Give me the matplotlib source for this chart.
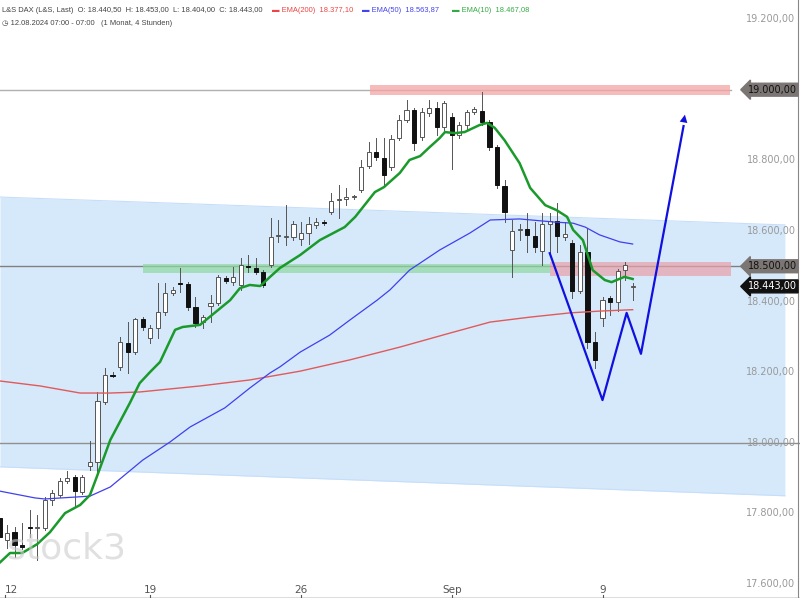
import matplotlib
matplotlib.use("Agg")
import matplotlib.pyplot as plt
from matplotlib.patches import Rectangle
import numpy as np

# ---- data ----
idx = list(range(-1, 84))
opens = [17787,17725,17747,17711,17762,17759,17759,17838,17852,17892,17903,17861,17934,17946,18116,18192,18215,18283,18257,18351,18297,
         18325,18370,18424,18450,18450,18385,18342,18388,18396,18467,18455,18447,18501,18495,18484,18504,18586,18583,18583,18577,
         18594,18617,18625,18654,18688,18690,18696,18716,18784,18824,18807,18781,18863,18914,18942,18866,18934,18948,18894,18923,
         18872,18900,18937,18940,18909,18838,18727,18546,18603,18606,18586,18543,18620,18628,18583,18566,18430,18540,18285,18353,
         18410,18399,18489,18440.5]
highs = [17810,17767,17762,17773,17810,17796,17847,17866,17900,17920,17909,17909,18005,18144,18212,18201,18300,18342,18353,18356,18334,
         18453,18453,18441,18495,18455,18413,18362,18419,18475,18472,18498,18523,18532,18523,18489,18637,18631,18673,18628,18625,
         18639,18637,18631,18708,18730,18722,18702,18801,18852,18863,18863,18872,18928,18971,18948,18948,18971,18965,18968,18934,
         18909,18942,18951,18993,18914,18843,18744,18631,18620,18651,18625,18651,18651,18679,18625,18574,18560,18608,18314,18413,
         18416,18492,18512,18453]
lows = [17711,17702,17677,17699,17733,17668,17753,17824,17847,17886,17818,17855,17923,17909,18110,18186,18206,18198,18251,18320,18283,
        18297,18362,18419,18427,18376,18328,18325,18342,18390,18453,18447,18433,18484,18478,18441,18498,18569,18560,18574,18560,
        18563,18608,18617,18648,18637,18673,18690,18710,18778,18801,18730,18773,18857,18909,18829,18857,18926,18872,18886,18775,
        18863,18886,18931,18900,18829,18722,18625,18470,18574,18540,18540,18504,18532,18540,18574,18410,18424,18268,18212,18331,
        18362,18373,18461,18404]
closes = [17733,17745,17711,17705,17759,17759,17838,17858,17892,17900,17863,17903,17946,18118,18192,18190,18285,18257,18351,18328,18325,
          18370,18424,18433,18449,18385,18339,18356,18396,18470,18458,18470,18504,18498,18484,18447,18583,18586,18583,18620,18594,
          18620,18625,18622,18685,18688,18696,18696,18781,18824,18809,18758,18860,18914,18942,18849,18937,18948,18894,18962,18872,
          18900,18937,18945,18909,18838,18730,18654,18600,18606,18589,18555,18620,18628,18586,18591,18430,18540,18285,18235,18404,
          18399,18487,18504,18443]

ema10_x = [-0.9,0.4,2.0,4.0,5.7,7.7,9.7,11.0,11.9,13.7,16.3,17.6,19.0,20.3,22.3,23.3,25.6,29.6,30.9,32.2,33.6,34.9,36.2,38.9,41.5,
           44.8,46.2,48.8,50.0,52.1,53.4,54.8,56.1,57.4,58.1,59.4,60.7,62.7,63.7,64.7,66.0,68.0,69.4,71.4,72.9,74.3,75.1,76.4,77.7,
           79.3,80.2,81.9,83.0]
ema10_y = [17662,17688,17688,17713,17747,17801,17824,17852,17903,18008,18113,18169,18201,18229,18320,18328,18334,18404,18438,18447,
           18444,18470,18495,18532,18574,18611,18640,18710,18724,18764,18801,18812,18838,18863,18880,18877,18880,18900,18906,18892,
           18857,18792,18722,18673,18659,18640,18603,18574,18489,18461,18455,18470,18464]
ema50_x = [-0.9,3.7,5.0,11.0,13.7,18.0,21.6,24.3,28.9,32.2,34.9,36.2,38.9,42.8,45.5,49.1,50.8,53.4,57.4,61.4,64.1,68.0,72.7,75.1,
           76.7,78.6,81.3,83.0]
ema50_y = [17863,17844,17841,17849,17875,17951,18002,18045,18099,18155,18198,18215,18257,18305,18348,18404,18433,18489,18546,18594,
           18631,18634,18625,18622,18611,18589,18569,18563]
ema200_x = [-0.9,4.4,9.7,13.7,17.6,25.6,32.2,38.9,45.5,52.1,58.8,64.1,69.4,74.7,78.6,83.0]
ema200_y = [18175,18161,18141,18141,18144,18161,18178,18203,18235,18271,18311,18342,18356,18368,18373,18377]

channel_x = [-0.93, 103.2]
channel_top = [18696, 18617]
channel_bot = [17932, 17850]

arrow_x = [72.0, 79.0, 82.2, 84.1, 90.0]
arrow_y = [18537, 18121, 18368, 18252, 18937]

tick_pos = [-0.3, 19, 39, 59, 79]
tick_labels = ["12", "19", "26", "Sep", "9"]
price_ticks = [19200, 19000, 18800, 18600, 18400, 18200, 18000, 17800, 17600]

# ---- figure ----
fig = plt.figure(figsize=(8, 6), dpi=100)
ax = fig.add_axes([0, 0.003, 1, 0.997])
x0, x1 = -0.93, 105.2
y0, y1 = 17560, 19254
ax.set_xlim(x0, x1)
ax.set_ylim(y0, y1)
ax.axis("off")

ax.fill_between(channel_x, channel_bot, channel_top, color="#d6e9fb", zorder=0, lw=0)
ax.plot(channel_x, channel_top, color="#c6defa", lw=0.8, zorder=0)
ax.plot(channel_x, channel_bot, color="#c6defa", lw=0.8, zorder=0)

ax.plot([x0, 96], [19000, 19000], color="#b0b0b0", lw=1, zorder=1)
ax.plot([x0, 104], [18500, 18500], color="#808080", lw=1, zorder=1)
ax.plot([x0, x1], [18000, 18000], color="#909090", lw=1, zorder=1)

ax.add_patch(Rectangle((48.1, 18984), 47.8, 30, color="#f4a6a6", alpha=0.75, lw=0, zorder=1))
ax.add_patch(Rectangle((18.0, 18481), 54.0, 25, color="#90d8a0", alpha=0.7, lw=0, zorder=1))
ax.add_patch(Rectangle((72.0, 18472), 24.0, 40, color="#e8a0a8", alpha=0.7, lw=0, zorder=1))

w = 0.55
for i, o, h, l, c in zip(idx, opens, highs, lows, closes):
    ax.plot([i, i], [l, h], color="#555555", lw=0.7, zorder=2)
    bottom, top = min(o, c), max(o, c)
    hgt = max(top - bottom, 3)
    if c >= o:
        ax.add_patch(Rectangle((i - w / 2, bottom), w, hgt, facecolor="white", edgecolor="#555555", lw=0.7, zorder=3))
    else:
        ax.add_patch(Rectangle((i - w / 2, bottom), w, hgt, facecolor="#111111", edgecolor="#111111", lw=0.7, zorder=3))

ax.plot(ema200_x, ema200_y, color="#e05a5a", lw=1.0, zorder=4)
ax.plot(ema50_x, ema50_y, color="#4040ee", lw=0.9, zorder=4)
ax.plot(ema10_x, ema10_y, color="#1a9a2a", lw=1.8, zorder=5)

ax.plot(arrow_x[:-1] + [arrow_x[-1] - 0.25], arrow_y[:-1] + [arrow_y[-1] - 40], color="#1010e0", lw=1.6, zorder=6)
ax.annotate("", xy=(arrow_x[-1], arrow_y[-1]), xytext=(arrow_x[-2], arrow_y[-2]),
            arrowprops=dict(arrowstyle="-|>", color="#1010e0", lw=0, mutation_scale=14), zorder=6)

for p, t in zip(tick_pos, tick_labels):
    ax.text(max(p, -0.6), 17570, t, ha="left" if p < 0 else "center", va="bottom", fontsize=7.5, color="#555555")
    ax.plot([p, p], [y0, y0 + 8], color="#555555", lw=0.8)
ax.plot([x0, x1], [y0 + 1, y0 + 1], color="#555555", lw=1)

ax.plot([104.9, 104.9], [y0, y1], color="#888888", lw=0.8)
for p in price_ticks:
    if p == 19000:
        continue
    ax.text(104.6, p, f"{p:,.2f}".replace(",", "X").replace(".", ",").replace("X", "."),
            ha="right", va="center", fontsize=7, color="#999999", zorder=7)

def tag(price, text, fc, tc):
    ax.text(104.75, price, text, ha="right", va="center", fontsize=7, color=tc, zorder=9,
            bbox=dict(boxstyle="larrow,pad=0.15", fc=fc, ec=fc))

tag(19000, "19.000,00", "#7b7674", "#111111")
tag(18500, "18.500,00", "#7b7674", "#111111")
tag(18443, "18.443,00", "#111111", "white")

hf = ["Liberation Sans", "DejaVu Sans"]
fs = 5.4
fig.text(0.003, 0.988, "L&S DAX (L&S, Last)  O: 18.440,50  H: 18.453,00  L: 18.404,00  C: 18.443,00",
         fontsize=fs, color="#444444", va="top", family=hf)
fig.text(0.340, 0.988, "▬ EMA(200)  18.377,10", fontsize=fs, color="#ee4444", va="top", family=hf)
fig.text(0.453, 0.988, "▬ EMA(50)  18.563,87", fontsize=fs, color="#4444ee", va="top", family=hf)
fig.text(0.565, 0.988, "▬ EMA(10)  18.467,08", fontsize=fs, color="#33aa44", va="top", family=hf)
fig.text(0.003, 0.967, "◷ 12.08.2024 07:00 - 07:00   (1 Monat, 4 Stunden)", fontsize=fs, color="#444444", va="top", family=hf)

ax.text(0.0, 17700, "stock3", fontsize=26, color="#cccccc", alpha=0.6, zorder=8, va="center")

fig.savefig("out.png", dpi=100)
